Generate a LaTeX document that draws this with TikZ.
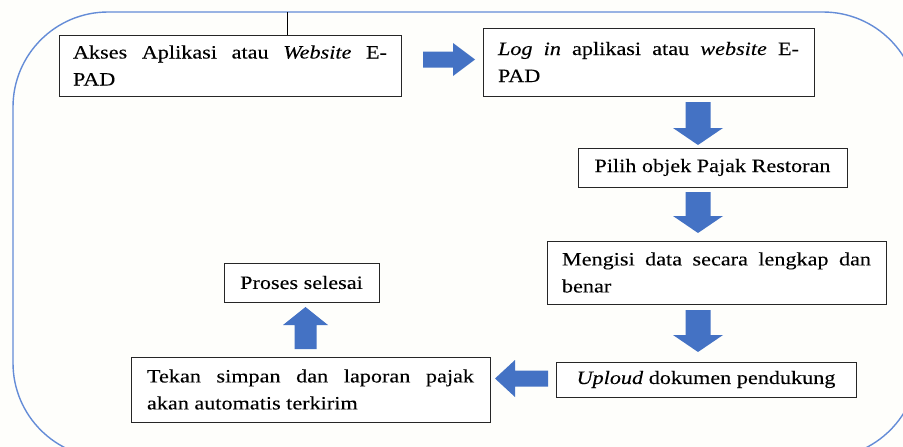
\documentclass[tikz,border=0pt]{standalone}
\usepackage{fontspec}
\setmainfont{Liberation Serif}[FakeStretch=1.18, FakeBold=0.12]
\definecolor{arrowblue}{RGB}{68,114,196}
\definecolor{framecol}{RGB}{100,140,215}
\definecolor{bgcol}{RGB}{254,254,251}
\newcommand\BArrow[8]{%
  \coordinate (#1) at (#2,#3);
  \fill[arrowblue, shift={(#1)}, rotate=#4]
    (-#5/2,-#7/2) -- (#5/2-#6,-#7/2) -- (#5/2-#6,-#8/2) -- (#5/2,0)
    -- (#5/2-#6,#8/2) -- (#5/2-#6,#7/2) -- (-#5/2,#7/2) -- cycle;}
\tikzset{
  stepbox/.style={draw=black!85, line width=0.9pt, anchor=north west,
    outer sep=0pt, inner ysep=2pt, font=\fontsize{18.8}{27}\selectfont,
    fill=white},
  framebox/.style={draw=framecol, line width=1.4pt, rounded corners=95pt}
}
\begin{document}
\begin{tikzpicture}[x=1pt,y=-1pt]
\useasboundingbox[fill=bgcol] (0,0) rectangle (903,447);
\begin{scope}
  \clip (0,0) rectangle (903,447);
  \draw[framebox] (13,12) rectangle (918,458);
\end{scope}
% boxes
\node[stepbox, minimum width=342, minimum height=61, text width=314,
  inner xsep=14, align=justify] (b1) at (59,35)
  {Akses Aplikasi atau \textit{Website} E-\linebreak PAD};
\node[stepbox, minimum width=331, minimum height=68, text width=301,
  inner xsep=15, align=justify] (b2) at (483,28)
  {\textit{Log in} aplikasi atau \textit{website} E-\linebreak PAD};
\node[stepbox, minimum width=269, minimum height=39, inner xsep=0,
  align=center] (b3) at (578,148) {Pilih objek Pajak Restoran};
\node[stepbox, minimum width=339, minimum height=63, text width=309,
  inner xsep=15, align=justify] (b4) at (547,241)
  {Mengisi data secara lengkap dan\linebreak benar};
\node[stepbox, minimum width=300, minimum height=35, inner xsep=0,
  align=center] (b5) at (556,362) {\textit{Uploud} dokumen pendukung};
\node[stepbox, minimum width=359, minimum height=65, text width=327,
  inner xsep=16, align=justify] (b6) at (131,357)
  {Tekan simpan dan laporan pajak\linebreak akan automatis terkirim};
\node[stepbox, minimum width=155, minimum height=39, inner xsep=0,
  align=center] (b7) at (224,263) {Proses selesai};
% top line
\coordinate (top) at (287,12);
\draw[line width=1pt] (top) -- (top |- b1.north);
% block arrows
\BArrow{a1}{449}{59.5}{0}{52}{22}{16}{33}
\BArrow{a2}{698}{123.5}{-90}{43}{17}{25}{50}
\BArrow{a3}{698}{212.5}{-90}{41}{17}{25}{50}
\BArrow{a4}{698}{331}{-90}{42}{17}{25}{50}
\BArrow{a5}{521.5}{378.5}{180}{53}{20}{16}{37}
\BArrow{a6}{305.5}{328}{90}{42}{18}{22}{45}
\end{tikzpicture}
\end{document}
